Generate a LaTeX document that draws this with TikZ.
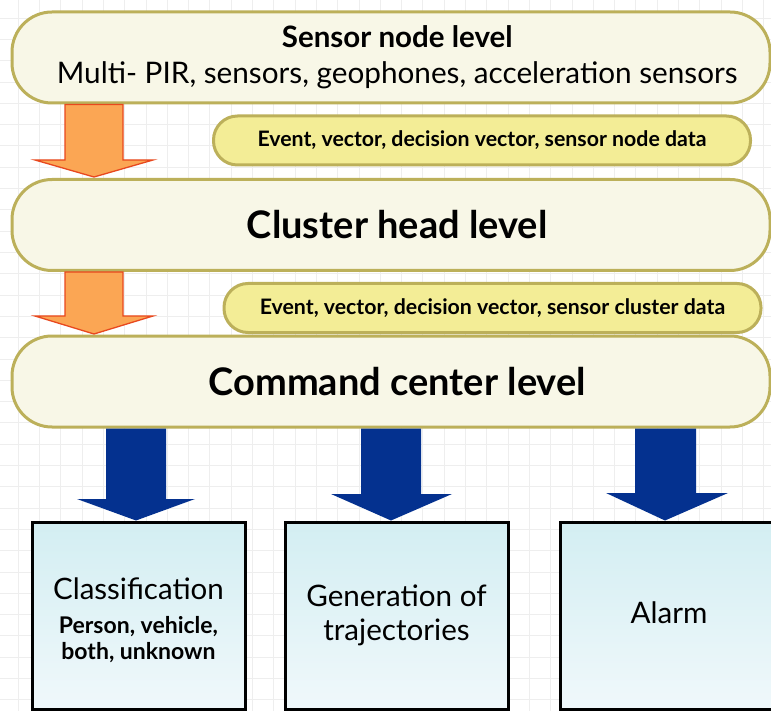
\documentclass[tikz,border=0pt]{standalone}
\usepackage{fontspec}
\setmainfont{Lato}
\definecolor{levelborder}{HTML}{BCB05A}
\definecolor{levelfill}{HTML}{F8F7E7}
\definecolor{tagfill}{HTML}{F3ED96}
\definecolor{upflowfill}{HTML}{FBA654}
\definecolor{upflowline}{HTML}{E8481E}
\definecolor{outflow}{HTML}{04318F}
\definecolor{resulttop}{HTML}{D3EEF2}
\definecolor{resultbottom}{HTML}{F0F8FB}
\definecolor{gridline}{HTML}{EEEEEE}
% pushes a centred line a little to the right
\newcommand\nudge{\hspace*{12.5pt}}
\begin{document}
\begin{tikzpicture}[x=1pt,y=-1pt,
  level/.style={draw=levelborder, line width=3pt, fill=levelfill,
    rounded corners=40pt, minimum width=758pt, minimum height=91pt,
    inner sep=0pt, align=center},
  tag/.style={draw=levelborder, line width=3pt, fill=tagfill,
    rounded corners=24pt, minimum width=537pt, minimum height=49pt,
    inner sep=0pt, align=center, font=\fontsize{21.3}{24}\selectfont\bfseries},
  result/.style={draw=black, line width=3pt, top color=resulttop,
    bottom color=resultbottom, minimum height=187pt, inner sep=0pt},
  resulttext/.style={align=center, inner sep=0pt},
  upflow/.style={fill=upflowfill, draw=upflowline, line width=1.3pt, line join=miter},
  outflowarrow/.style={fill=outflow, draw=none}]
\useasboundingbox (0,0) rectangle (771,711);
\clip (0,0) rectangle (771,711);
\fill[white] (0,0) rectangle (771,711);
% faint background grid
\foreach \i in {0,...,36} {
  \draw[gridline, line width=0.6pt] (18+21.3*\i,0) -- (18+21.3*\i,711);
}
\foreach \i in {0,...,34} {
  \draw[gridline, line width=0.6pt] (0,18+21.3*\i) -- (771,18+21.3*\i);
}

% levels
\node[level, font=\fontsize{29.5}{35}\selectfont\bfseries] (sensor) at (391,57.5)
  {\nudge Sensor node level\\[1pt]
   \fontsize{29.7}{35}\selectfont\mdseries\nudge Multi- PIR, sensors, geophones, acceleration sensors};
\node[level, font=\fontsize{38}{44}\selectfont\bfseries] (cluster) at (391,225)
  {\nudge Cluster head level};
\node[tag] (tagA) at (482,140.5) {Event, vector, decision vector, sensor node data};
\node[tag] (tagB) at (492.5,308) {Event, vector, decision vector, sensor cluster data};
\node[level, font=\fontsize{38}{44}\selectfont\bfseries] (command) at (391,381.5)
  {\nudge Command center level};

% data flowing up the hierarchy (drawn as downward block arrows)
\draw[upflow] (65,0 |- sensor.south) -- (65,160) -- (35,160) -- (94,177)
  -- (153,160) -- (123,160) -- (123,0 |- sensor.south) -- cycle;
\draw[upflow] (65,0 |- cluster.south) -- (65,316) -- (35,316) -- (94,334)
  -- (153,316) -- (123,316) -- (123,0 |- cluster.south) -- cycle;

% results
\node[result, minimum width=213pt] (classif) at (138.5,615.5) {};
\node[resulttext, font=\fontsize{29.5}{33}\selectfont] (classiftext)
  at ([yshift=-5pt]classif.center)
  {Classification\\[1pt]
   \fontsize{23}{27}\selectfont\bfseries Person, vehicle,\\[-7pt]
   \fontsize{23}{27}\selectfont\bfseries both, unknown};
\node[result, minimum width=223pt] (traj) at (396.5,615.5) {};
\node[resulttext, font=\fontsize{29.6}{34}\selectfont] (trajtext)
  at (traj.center) {Generation of\\ trajectories};
\node[result, minimum width=218pt] (alarm) at (669,615.5) {};
\node[resulttext, font=\fontsize{29.6}{34}\selectfont] (alarmtext)
  at ([yshift=3pt]alarm.center) {Alarm};

% outputs of the command center
\fill[outflowarrow] (106,0 |- command.south) -- (106,499) -- (77,499)
  -- (136,0 |- classif.north) -- (195,499) -- (166,499) -- (166,0 |- command.south) -- cycle;
\fill[outflowarrow] (361,0 |- command.south) -- (361,494) -- (331,494)
  -- (391,0 |- traj.north) -- (452,494) -- (421,494) -- (421,0 |- command.south) -- cycle;
\fill[outflowarrow] (635,0 |- command.south) -- (635,493) -- (606,493)
  -- (665,0 |- alarm.north) -- (728,493) -- (696,493) -- (696,0 |- command.south) -- cycle;
\end{tikzpicture}
\end{document}
